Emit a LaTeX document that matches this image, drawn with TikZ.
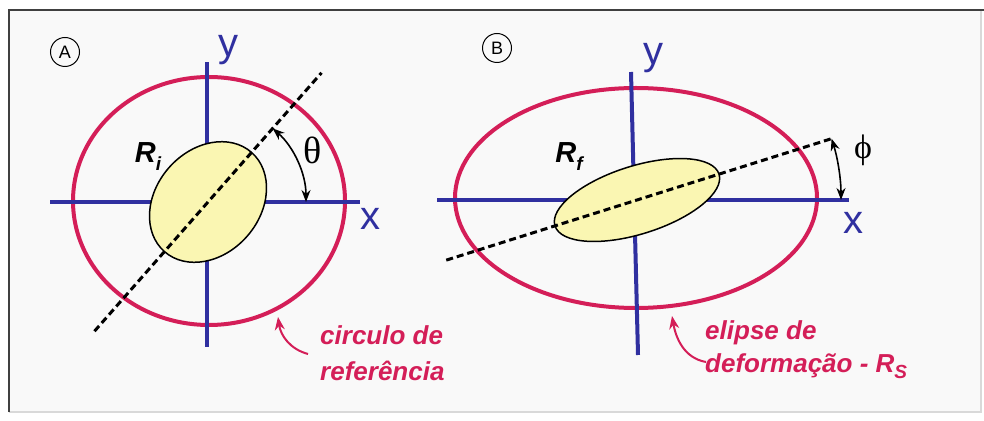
\documentclass[tikz,border=0pt]{standalone}
\usepackage{fontspec}
\setmainfont{Liberation Serif}
\setsansfont{Liberation Sans}
\usetikzlibrary{arrows.meta}
\definecolor{axisblue}{RGB}{48,48,160}
\definecolor{ringred}{RGB}{212,30,88}
\definecolor{grainyellow}{RGB}{250,246,178}
\definecolor{panelgray}{RGB}{249,249,249}
\newcommand{\fs}[1]{\fontsize{#1}{#1}\selectfont}
\tikzset{
  axis/.style={draw=axisblue, line width=4},
  ring/.style={draw=ringred, line width=4},
  grain/.style={draw=black, line width=1.5, fill=grainyellow},
  trace/.style={draw=black, line width=3, dash pattern=on 7pt off 4pt},
  anglearrow/.style={{Stealth[length=12pt,width=9pt]}-{Stealth[length=12pt,width=9pt]}, line width=1.6},
  callout/.style={-{Stealth[length=13pt,width=10pt]}, draw=ringred, line width=2},
  note/.style={text=ringred, font=\sffamily\bfseries\itshape\fs{26}, inner sep=0, anchor=base west},
  axlabel/.style={text=axisblue, font=\sffamily\fs{40}, inner sep=0},
  tag/.style={draw, circle, line width=1, minimum size=29, inner sep=0, font=\sffamily\fs{18}},
  ratio/.style={font=\sffamily\bfseries\itshape\fs{29}, inner sep=0},
  anglelabel/.style={font=\fs{38}, inner sep=0}
}
\begin{document}
\begin{tikzpicture}[x=1pt, y=1pt]
\useasboundingbox (0,0) rectangle (984,420);
% frame
\fill[white] (0,0) rectangle (984,420);
\fill[panelgray] (9,8) rectangle (981,410);
\draw[gray!30, line width=1.5] (9,8) -- (981,8) -- (981,410);
\draw[black!75, line width=2.5] (9,8) -- (9,410) -- (984,410);
%%% panel A
\coordinate (OA) at (208,218);
\node[tag] (tagA) at (65,368) {A};
% reference circle
\draw[ring] (209,219) ellipse [x radius=136, y radius=124];
% axes
\coordinate (xA1) at (50,218);
\coordinate (xA2) at (360,218);
\coordinate (yA1) at (207,73);
\coordinate (yA2) at (207,358);
\draw[axis] (xA1) -- (xA2);
\draw[axis] (yA1) -- (yA2);
\node[axlabel] (xA) at (370,201) {x};
\node[axlabel] (yA) at (228,370) {y};
% initial grain
\draw[grain, rotate around={48.7:(OA)}] (OA) ellipse [x radius=66, y radius=52];
\coordinate (dA1) at ([shift={(228.7:172)}]OA);
\coordinate (dA2) at ([shift={(48.7:172)}]OA);
\draw[trace] (dA1) -- (dA2);
\node[ratio] (RiA) at (148,263) {R\raisebox{-8pt}{\fs{19}i}};
% angle theta
\draw[anglearrow] ([shift={(48.7:98)}]OA) arc[start angle=48.7, end angle=0, radius=98];
\node[anglelabel] (thetaA) at (313,270) {θ};
% callout
\node[note] (noteA1) at (320,75) {circulo de};
\node[note] (noteA2) at (320,40) {referência};
\coordinate (tailA) at (308,66);
\coordinate (headA) at (278,103);
\draw[callout] (tailA) to[out=165, in=-82] (headA);
%%% panel B
\coordinate (OB) at (637,220);
\node[tag] (tagB) at (497,372) {B};
% strain ellipse
\draw[ring] (636,222) ellipse [x radius=181, y radius=110];
% axes
\coordinate (xB1) at (437,220);
\coordinate (xB2) at (849,220);
\coordinate (yB1) at (638,65);
\coordinate (yB2) at (631,348);
\draw[axis] (xB1) -- (xB2);
\draw[axis] (yB1) -- (yB2);
\node[axlabel] (xB) at (853,197) {x};
\node[axlabel] (yB) at (653,362) {y};
% final grain
\draw[grain, rotate around={17.5:(OB)}] (OB) ellipse [x radius=86, y radius=34];
\coordinate (dB1) at ([shift={(197.5:200)}]OB);
\coordinate (dB2) at ([shift={(17.5:204)}]OB);
\draw[trace] (dB1) -- (dB2);
\node[ratio] (RfB) at (569,263) {R\raisebox{-8pt}{\fs{19}f}};
% angle phi
\draw[anglearrow] (dB2) arc[start angle=17.5, end angle=0, radius=204];
\node[anglelabel, font=\fs{34}] (phiB) at (863,270) {ϕ};
% callout
\node[note] (noteB1) at (705,80) {elipse de};
\node[note] (noteB2) at (705,47) {deformação - R\raisebox{-6pt}{\fs{19}S}};
\coordinate (tailB) at (706,58);
\coordinate (headB) at (672,104);
\draw[callout] (tailB) to[out=170, in=-80] (headB);
\end{tikzpicture}
\end{document}
